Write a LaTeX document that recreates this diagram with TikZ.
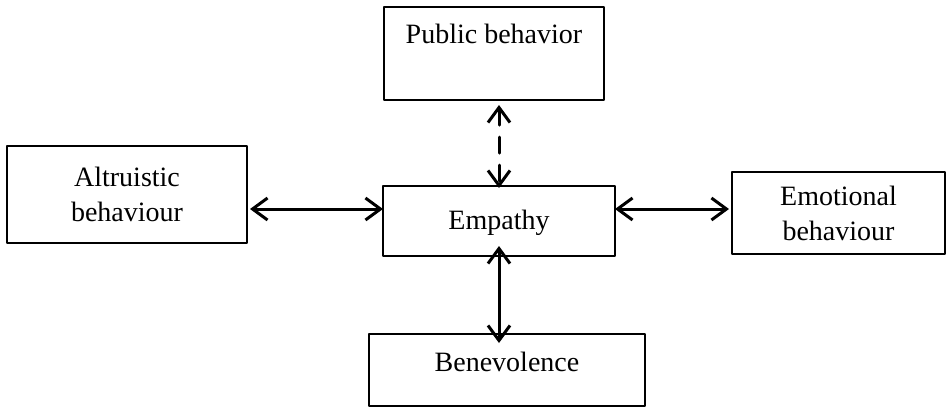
\documentclass[tikz,border=0pt]{standalone}
\usepackage{fontspec}
\setmainfont{Liberation Serif}
\usetikzlibrary{arrows.meta, calc}

\begin{document}
\begin{tikzpicture}[x=1pt, y=-1pt, line cap=round, line join=round,
		box/.style={draw, line width=1.4pt, inner sep=0pt, outer sep=0pt, align=center,
			font=\fontsize{28}{35}\selectfont},
		link/.style={{Straight Barb[length=15pt, width=22pt]}-{Straight Barb[length=15pt, width=22pt]}, line width=3pt}]
				\useasboundingbox (0,0) rectangle (946,408);
				% the five boxes
				\node[box, minimum width=220pt, minimum height=93pt, text height=36pt, text depth=57pt] (pub) at (494,53.5) {Public behavior};
				\node[box, minimum width=240pt, minimum height=97pt] (alt) at (127,194.5) {Altruistic\\behaviour};
				\node[box, minimum width=232pt, minimum height=70pt, text height=43pt, text depth=27pt] (emp) at (499,221) {Empathy};
				\node[box, minimum width=213pt, minimum height=82pt] (emo) at (838.5,213) {Emotional\\behaviour};
				\node[box, minimum width=276pt, minimum height=72pt, text height=37pt, text depth=35pt] (ben) at (507,370) {Benevolence};
				% links
				\draw[link, dash pattern=on 16pt off 12pt] ([yshift=-5pt]emp.north |- pub.south) -- ([yshift=-2pt]emp.north);
				\draw[link] ([xshift=3pt, yshift=12pt]alt.east |- emp.west) -- ([yshift=12pt]emp.west);
				\draw[link] ([yshift=12pt]emp.east) -- ([xshift=-3pt, yshift=12pt]emo.west |- emp.east);
				\draw[link] ([yshift=10pt]emp.south) -- ([yshift=-9pt]emp.south |- ben.north);
			\end{tikzpicture}
\end{document}
